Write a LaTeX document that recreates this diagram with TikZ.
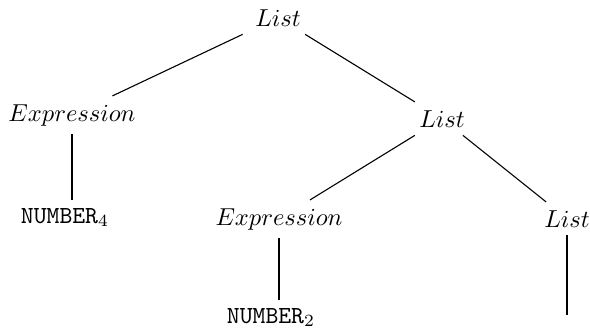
\documentclass[tikz,border=0pt]{standalone}
\begin{document}
\begin{tikzpicture}[x=0.408pt,y=-0.408pt,
  tnode/.style={inner xsep=6pt,inner ysep=3.2pt,anchor=base},
  diag/.style={line width=0.45pt},
  vert/.style={line width=0.8pt}]
\useasboundingbox (0,0) rectangle (590,333);
\node[tnode] (top) at (278,26) {$List$};
\node[tnode] (e1) at (72,121) {$Expression$};
\node[tnode] (l2) at (442,127) {$List$};
\node[tnode] (n4) at (65,223) {\texttt{NUMBER}$_4$};
\node[tnode] (e2) at (279,225) {$Expression$};
\node[tnode] (l3) at (567,227) {$List$};
\node[tnode] (n2) at (271,323) {\texttt{NUMBER}$_2$};
\coordinate (lend) at (567,315);
\draw[diag] (top) -- (e1);
\draw[diag] (top) -- (l2);
\draw[diag] (l2) -- (e2);
\draw[diag] (l2) -- (l3);
\draw[vert] (e1) -- (e1 |- n4.north);
\draw[vert] (e2) -- (e2 |- n2.north);
\draw[vert] (l3) -- (lend);
\end{tikzpicture}
\end{document}
